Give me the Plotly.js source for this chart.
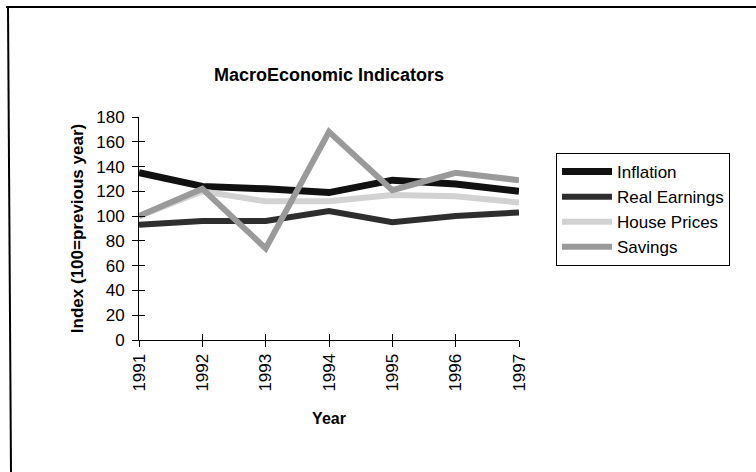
<!DOCTYPE html>
<html>
<head>
<meta charset="utf-8">
<script src="https://cdn.plot.ly/plotly-3.0.1.min.js"></script>
<style>html,body{margin:0;padding:0;background:#fff;}#chart{width:756px;height:472px;}</style>
</head>
<body>
<div id="chart"></div>
<script>
var years = [1991, 1992, 1993, 1994, 1995, 1996, 1997];
var inflation = [135, 124, 122, 119, 129, 126, 120];
var realEarnings = [93, 96, 96, 104, 95, 100, 103];
var housePrices = [100, 120, 112, 112, 117, 116, 111];
var savings = [100, 122, 74, 168, 121, 135, 129];
var yTicks = [0, 20, 40, 60, 80, 100, 120, 140, 160, 180];

var W = 756, H = 472;
var M = {l: 139, r: 237, t: 117, b: 132};
var pw = W - M.l - M.r, ph = H - M.t - M.b;
function px(x) { return (x - M.l) / pw; }
function py(y) { return (H - M.b - y) / ph; }

var font = 'Liberation Sans, Arial, sans-serif';

var traces = [
  {x: years, y: inflation, name: 'Inflation', mode: 'lines',
   line: {color: '#111111', width: 7}},
  {x: years, y: realEarnings, name: 'Real Earnings', mode: 'lines',
   line: {color: '#2e2e2e', width: 6}},
  {x: years, y: housePrices, name: 'House Prices', mode: 'lines',
   line: {color: '#d2d2d2', width: 6}},
  {x: years, y: savings, name: 'Savings', mode: 'lines',
   line: {color: '#9a9a9a', width: 6}},
  {x: [1991], y: [0], xaxis: 'x2', yaxis: 'y2', mode: 'markers', marker: {opacity: 0},
   showlegend: false, hoverinfo: 'skip'}
];

var layout = {
  width: W, height: H,
  margin: M,
  paper_bgcolor: '#ffffff', plot_bgcolor: '#ffffff',
  font: {family: font, color: '#000', size: 17},
  title: {text: '<b>MacroEconomic Indicators</b>', font: {size: 18, family: font, color: '#000'},
          x: 0.5, xref: 'paper', xanchor: 'center', y: 1 - 75 / H, yref: 'container', yanchor: 'middle'},
  showlegend: true,
  legend: {x: px(556), y: py(153), xanchor: 'left', yanchor: 'top',
           bordercolor: '#000', borderwidth: 1, bgcolor: '#fff', itemwidth: 50,
           font: {size: 17, family: font, color: '#000'}, tracegroupgap: 0},
  xaxis: {
    range: [1991, 1997], tickmode: 'array', tickvals: years, ticktext: years.map(String),
    tickangle: -90, ticks: 'outside', ticklen: 6, tickcolor: '#000', tickwidth: 1,
    showline: true, linecolor: '#000', linewidth: 1, showgrid: false, zeroline: false,
    tickfont: {size: 17, family: font},
    title: {text: '<b>Year</b>', font: {size: 16, family: font}, standoff: 22}
  },
  xaxis2: {
    range: [1991, 1997], tickmode: 'array', tickvals: years, overlaying: 'x', side: 'bottom',
    ticks: 'inside', ticklen: 6, tickcolor: '#000', showticklabels: false,
    showline: false, showgrid: false, zeroline: false
  },
  yaxis: {
    range: [0, 180], tickmode: 'array', tickvals: yTicks,
    ticks: 'outside', ticklen: 6, tickcolor: '#000', tickwidth: 1, ticklabelstandoff: 4,
    showline: true, linecolor: '#000', linewidth: 1, showgrid: false, zeroline: false,
    tickfont: {size: 17, family: font},
    title: {text: '<b>Index (100=previous year)</b>', font: {size: 17, family: font}, standoff: 8}
  },
  yaxis2: {
    range: [0, 180], tickmode: 'array', tickvals: yTicks, overlaying: 'y', side: 'left',
    ticks: 'inside', ticklen: 6, tickcolor: '#000', showticklabels: false,
    showline: false, showgrid: false, zeroline: false
  },
  shapes: [
    {type: 'line', xref: 'paper', yref: 'paper', x0: px(6), x1: px(756), y0: py(7), y1: py(7),
     line: {color: '#000', width: 2}},
    {type: 'line', xref: 'paper', yref: 'paper', x0: px(8), x1: px(11), y0: py(7), y1: py(472),
     line: {color: '#000', width: 2}}
  ]
};

Plotly.newPlot('chart', traces, layout, {displayModeBar: false, staticPlot: true});
</script>
</body>
</html>
